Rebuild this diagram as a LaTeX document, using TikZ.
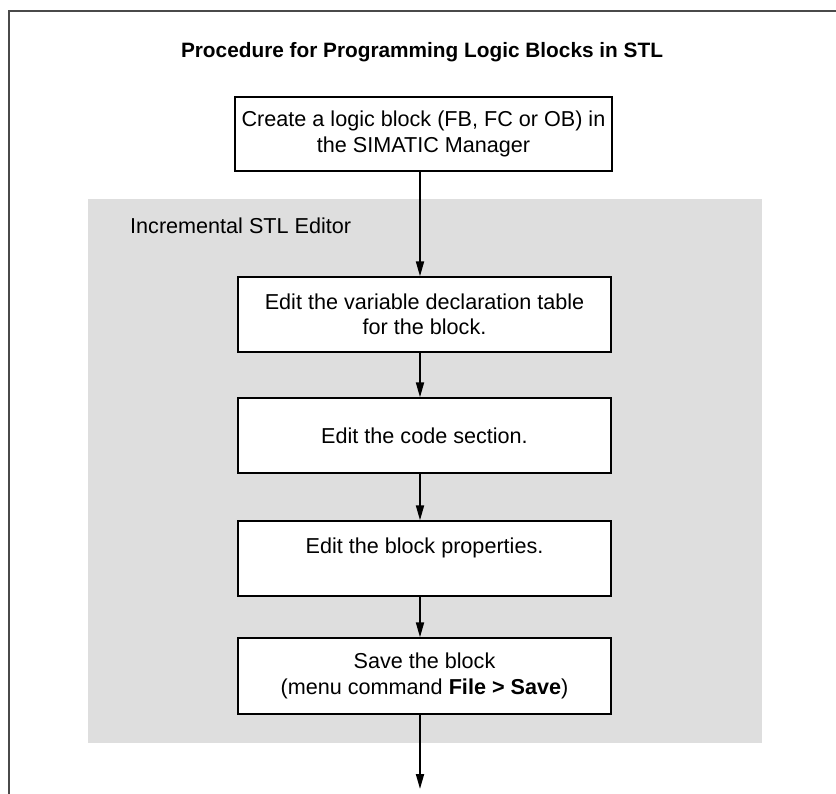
\documentclass[tikz,border=0pt]{standalone}
\usepackage{fontspec}
\setmainfont{Liberation Sans}
\usetikzlibrary{arrows.meta}
\definecolor{framegray}{HTML}{4A4A4A}
\definecolor{panelgray}{HTML}{DEDEDE}
\begin{document}
\begin{tikzpicture}[x=1pt,y=-1pt,
  stepbox/.style={draw=black, line width=1.3pt, fill=white, align=center,
    font=\fontsize{21.6}{25.5}\selectfont, minimum width=373pt, minimum height=75pt, inner sep=0pt},
  flow/.style={line width=1.8pt, -{Triangle[length=15pt,width=8pt]}},
  txt/.style={font=\fontsize{21.6}{25.5}\selectfont, inner sep=0pt}]
\useasboundingbox (0,0) rectangle (836,794);
\fill[white] (0,0) rectangle (836,794);
\draw[color=framegray, line width=1.8pt] (9,800) -- (9,11) -- (840,11);
\fill[panelgray] (88,199) rectangle (762,743);
\node[txt, font=\bfseries\fontsize{20.8}{25}\selectfont] (title) at (422,52) {Procedure for Programming Logic Blocks in STL};
\node[txt, anchor=west] (editor) at (130,226) {Incremental STL Editor};
\node[stepbox, minimum width=377pt, minimum height=74pt] (b1) at (423.5,134) {Create a logic block (FB, FC or OB) in\\the SIMATIC Manager};
\node[stepbox] (b2) at (424.5,314.5) {Edit the variable declaration table\\for the block.};
\node[stepbox] (b3) at (424.5,435.5) {Edit the code section.};
\node[stepbox] (b4) at (424.5,558.5) {Edit the block properties.\\\phantom{X}};
\node[stepbox, minimum height=76pt] (b5) at (424.5,676) {Save the block\\(menu command \textbf{File > Save})};
\coordinate (end) at (420,789);
\draw[flow] ([xshift=-3.5pt]b1.south) -- ([xshift=-4.5pt]b2.north);
\draw[flow] ([xshift=-4.5pt]b2.south) -- ([xshift=-4.5pt]b3.north);
\draw[flow] ([xshift=-4.5pt]b3.south) -- ([xshift=-4.5pt]b4.north);
\draw[flow] ([xshift=-4.5pt]b4.south) -- ([xshift=-4.5pt]b5.north);
\draw[flow] ([xshift=-4.5pt]b5.south) -- (end);
\end{tikzpicture}
\end{document}
